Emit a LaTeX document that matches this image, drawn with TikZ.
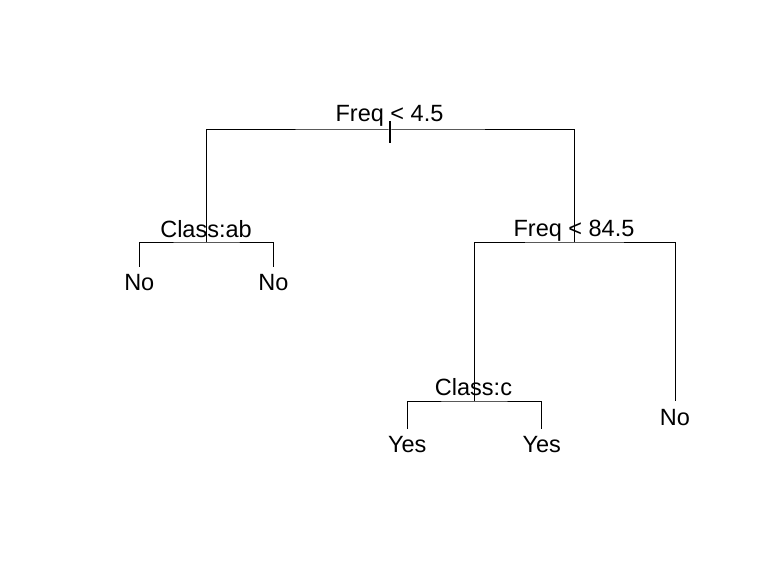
\documentclass[tikz,border=0pt]{standalone}
\usepackage{fontspec}
\setmainfont{Liberation Sans}
\begin{document}
\begin{tikzpicture}[x=1pt,y=-1pt,
  lbl/.style={anchor=base,inner sep=0pt,font=\fontsize{23.5}{28}\selectfont},
  edge/.style={line width=1pt,black}]
\useasboundingbox (0,0) rectangle (757,588);
% split points
\coordinate (root) at (390,130);
\coordinate (a) at (206.7,242);
\coordinate (b) at (574,242);
\coordinate (l1) at (139.3,266.7);
\coordinate (l2) at (273.3,266.7);
\coordinate (c) at (474.3,401);
\coordinate (n3) at (675,401);
\coordinate (y1) at (407.3,429);
\coordinate (y2) at (541.7,429);
\coordinate (tt) at (390,121);
\coordinate (tb) at (390,143);
% labels
\node[lbl] (t0) at (389.5,122) {Freq < 4.5};
\node[lbl] (t1) at (206,237.7) {Class:ab};
\node[lbl] (t2) at (574,236.7) {Freq < 84.5};
\node[lbl] (t3) at (473.5,395.7) {Class:c};
\node[lbl] (L1) at (139.3,290) {No};
\node[lbl] (L2) at (273.3,290) {No};
\node[lbl] (L3) at (407.3,452) {Yes};
\node[lbl] (L4) at (541.7,452) {Yes};
\node[lbl] (L5) at (675,425) {No};
% edges
\draw[edge] (a) |- (root) -| (b);
\draw[edge] (l1) |- (a) -| (l2);
\draw[edge] (c) |- (b) -| (n3);
\draw[edge] (y1) |- (c) -| (y2);
\draw[line width=2pt] (tt) -- (tb);
\end{tikzpicture}
\end{document}
